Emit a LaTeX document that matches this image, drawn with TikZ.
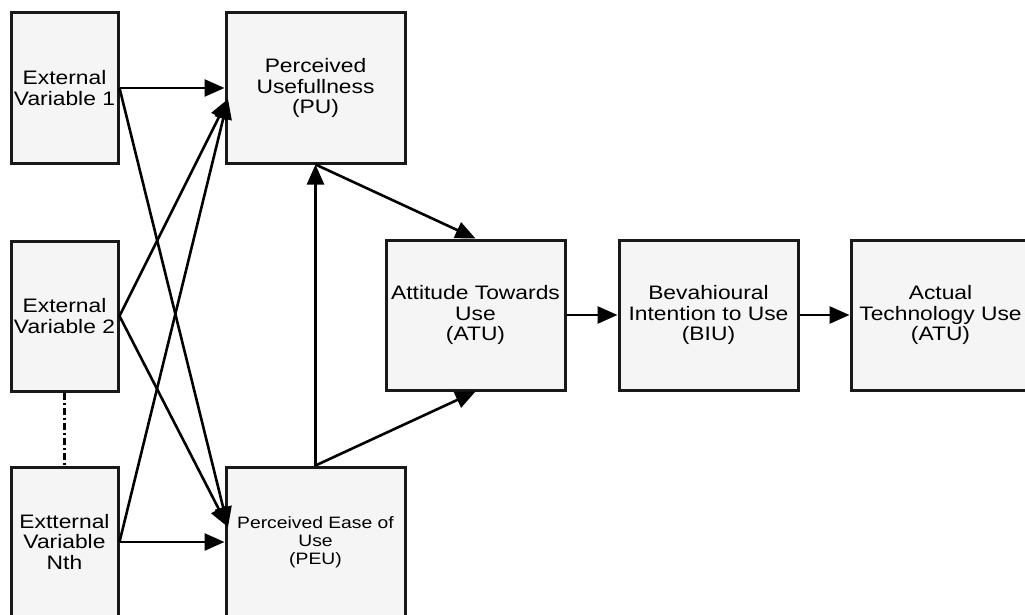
\documentclass[tikz,border=0pt]{standalone}
\usepackage{fontspec}
\setmainfont{Liberation Sans}[FakeStretch=1.17]
\usetikzlibrary{arrows.meta}
\begin{document}
\begin{tikzpicture}[x=1pt,y=-1pt,
  box/.style={draw=black!90, line width=3pt, fill=black!4, align=center,
    inner sep=0pt, font=\fontsize{19.5}{20.5}\selectfont},
  narrow/.style={box, minimum width=107pt, minimum height=150pt},
  wide/.style={box, minimum width=179pt, minimum height=150pt},
  link/.style={line width=2.6pt, -{Triangle[length=20pt,width=17pt]}},
  plain/.style={line width=2.6pt}]
\useasboundingbox (0,0) rectangle (1025,615);
\clip (0,0) rectangle (1025,615);
\fill[white] (0,0) rectangle (1025,615);

% external variables
\node[narrow] (ev1) at (64.5,88) {External\\Variable 1};
\node[narrow] (ev2) at (64.5,316) {External\\Variable 2};
\node[narrow] (evn) at (64.5,542) {Extternal\\Variable\\Nth};

% core constructs
\node[wide] (pu) at (315.5,88) {Perceived\\Usefullness\\(PU)};
\node[wide, font=\fontsize{16.5}{18}\selectfont] (peu) at (315.5,542) {Perceived Ease of\\Use\\(PEU)};
\node[wide] (atu) at (475.5,315) {Attitude Towards\\Use\\(ATU)};
\node[wide] (biu) at (708.5,315) {Bevahioural\\Intention to Use\\(BIU)};
\node[wide] (use) at (940.5,315) {Actual\\Technology Use\\(ATU)};

% meeting points of the converging arrows
\coordinate (puin) at (228,99);
\coordinate (peuin) at (228,527);

\draw[plain, dash pattern=on 7pt off 3pt on 2pt off 3pt] (ev2.south) -- (evn.north);

\draw[link] (ev1.east) -- (pu.west);
\draw[link] (ev2.east) -- (puin);
\draw[link] (evn.east) -- (puin);
\draw[link] (ev1.east) -- (peuin);
\draw[link] (ev2.east) -- (peuin);
\draw[link] (evn.east) -- (peu.west);

\draw[link] (peu.north) -- (pu.south);
\draw[link] (pu.south) -- (atu.north);
\draw[link] (peu.north) -- (atu.south);
\draw[link] (atu.east) -- (biu.west);
\draw[link] (biu.east) -- (use.west);
\end{tikzpicture}
\end{document}
